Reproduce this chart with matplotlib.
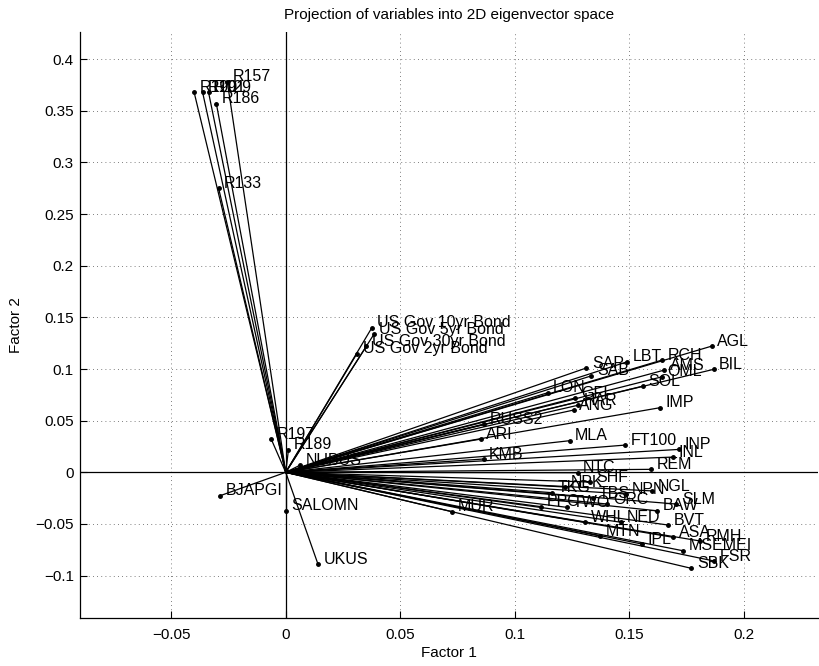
import matplotlib
matplotlib.use("Agg")
import matplotlib.pyplot as plt

# ---------------------------------------------------------------------------
# Loadings on factor 1 / factor 2
# ---------------------------------------------------------------------------
names = [
    "R190", "R191", "R129", "R186", "R157", "R133", "R197", "R189", "NUBUS",
    "BJAPGI", "SALOMN", "UKUS",
    "US Gov 10yr Bond", "US Gov 5yr Bond", "US Gov 30yr Bond", "US Gov 2yr Bond",
    "SAP", "SAB", "LBT", "RCH", "AGL", "BIL", "AMS", "OML", "SOL", "LON",
    "GFI", "HAR", "ANG", "IMP", "RUSS2", "ARI", "MLA", "FT100", "INP", "INL",
    "REM", "KMB", "NTC", "SHF", "TKG", "NPK", "TBS", "NPN", "NGL", "PPC",
    "TWO", "ORC", "SLM", "BAW", "WHL", "NED", "BVT", "MTN", "IPL", "ASA",
    "RMH", "MSEMEI", "FSR", "SBK", "MUR",
]
factor1 = [
    -0.0400, -0.0363, -0.0337, -0.0303, -0.0255, -0.0293, -0.0063, 0.0012, 0.0063,
    -0.0286, 0.0000, 0.0141,
    0.0376, 0.0385, 0.0352, 0.0311,
    0.1312, 0.1334, 0.1490, 0.1643, 0.1860, 0.1868, 0.1653, 0.1643, 0.1560, 0.1143,
    0.1264, 0.1277, 0.1257, 0.1635, 0.0867, 0.0852, 0.1239, 0.1483, 0.1718, 0.1692,
    0.1595, 0.0864, 0.1274, 0.1330, 0.1162, 0.1220, 0.1343, 0.1487, 0.1600, 0.1116,
    0.1228, 0.1404, 0.1705, 0.1621, 0.1308, 0.1465, 0.1669, 0.1373, 0.1555, 0.1691,
    0.1810, 0.1734, 0.1871, 0.1770, 0.0726,
]
factor2 = [
    0.368, 0.368, 0.368, 0.357, 0.378, 0.275, 0.032, 0.022, 0.007,
    -0.0226, -0.037, -0.089,
    0.140, 0.1336, 0.122, 0.115,
    0.101, 0.0934, 0.107, 0.1087, 0.1222, 0.0997, 0.099, 0.0925, 0.0835, 0.077,
    0.072, 0.065, 0.0603, 0.0626, 0.0468, 0.0322, 0.0306, 0.0264, 0.0222, 0.0148,
    0.0029, 0.0129, -0.0004, -0.0094, -0.0197, -0.0142, -0.0248, -0.0210, -0.0180, -0.0333,
    -0.0339, -0.0307, -0.0307, -0.0372, -0.0484, -0.0484, -0.0510, -0.0617, -0.0694, -0.0629,
    -0.0665, -0.0759, -0.0859, -0.0929, -0.0381,
]

xticks = [-0.05, 0, 0.05, 0.1, 0.15, 0.2]
yticks = [-0.1, -0.05, 0, 0.05, 0.1, 0.15, 0.2, 0.25, 0.3, 0.35, 0.4]


def _fmt(t):
    # MATLAB puts a proper minus sign in front of negative ticks
    return ("\u2212" + f"{-t:g}") if t < 0 else f"{t:g}"


plt.rcParams["font.family"] = ["Liberation Sans", "DejaVu Sans"]

fig = plt.figure(figsize=(8.2, 6.66), dpi=100)
ax = fig.add_axes([0.097, 0.0716, 0.901, 0.8808])
ax.set_xlim(-0.09, 0.2325)
ax.set_ylim(-0.1413, 0.4265)

# grid (MATLAB-style dotted)
ax.set_xticks(xticks)
ax.set_yticks(yticks)
ax.set_xticklabels([_fmt(t) for t in xticks])
ax.set_yticklabels([_fmt(t) for t in yticks])
ax.grid(True, color="#555555", linestyle=(0, (1, 4)), linewidth=0.6)
ax.set_axisbelow(True)

# zero lines
ax.axhline(0, color="black", lw=0.9, zorder=2)
ax.axvline(0, color="black", lw=0.9, zorder=2)

# vectors from origin
for name, x, y in zip(names, factor1, factor2):
    ax.plot([0, x], [0, y], color="black", lw=0.9, zorder=3)
    ax.plot(x, y, "o", color="black", ms=2.5, zorder=4)
    ax.annotate(name, xy=(x, y), xytext=(4, 3.5), textcoords="offset points",
                ha="left", va="center", fontsize=11.5, color="black", zorder=5)

for side in ("top", "right"):
    ax.spines[side].set_visible(False)
for side in ("left", "bottom"):
    ax.spines[side].set_linewidth(0.9)
ax.tick_params(direction="in", length=5, width=0.8, labelsize=11, colors="black")
ax.tick_params(axis="x", pad=7)
ax.tick_params(axis="y", pad=4)

ax.set_title("Projection of variables into 2D eigenvector space", fontsize=11, pad=9)
ax.set_xlabel("Factor 1", fontsize=11, labelpad=3)
ax.set_ylabel("Factor 2", fontsize=11, labelpad=9)

fig.savefig("out.png", dpi=100)
